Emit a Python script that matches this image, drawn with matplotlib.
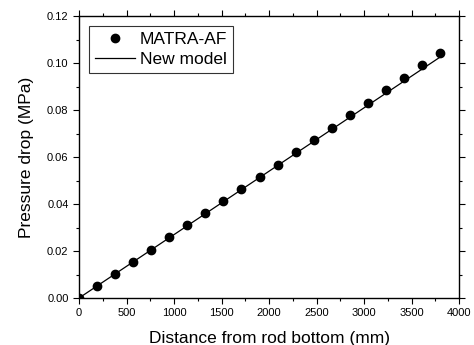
import matplotlib
matplotlib.use("Agg")
import matplotlib.pyplot as plt
from matplotlib.ticker import MultipleLocator

# MATRA-AF points
distance = [0, 190, 380, 570, 760, 950, 1140, 1330, 1520, 1710, 1900,
            2090, 2280, 2470, 2660, 2850, 3040, 3230, 3420, 3610, 3800]
dp_matra = [0.0, 0.0052, 0.0103, 0.0154, 0.0206, 0.0258, 0.0309, 0.0360,
            0.0413, 0.0464, 0.0516, 0.0567, 0.0620, 0.0672, 0.0725, 0.0778,
            0.0831, 0.0884, 0.0936, 0.0990, 0.1044]

# new model line
model_x = [0, 3800]
model_y = [0.0, 0.1025]

plt.rcParams['font.family'] = ['Liberation Sans', 'DejaVu Sans']

fig = plt.figure(figsize=(4.74, 3.45), dpi=100)
ax = fig.add_axes([0.1667, 0.1362, 0.8017, 0.8174])

ax.plot(distance, dp_matra, 'o', color='black', markersize=6, label='MATRA-AF')
ax.plot(model_x, model_y, '-', color='black', linewidth=0.9, label='New model')

ax.set_xlim(0, 4000)
ax.set_ylim(0, 0.12)
ax.xaxis.set_major_locator(MultipleLocator(500))
ax.xaxis.set_minor_locator(MultipleLocator(250))
ax.yaxis.set_major_locator(MultipleLocator(0.02))
ax.yaxis.set_minor_locator(MultipleLocator(0.01))
ax.yaxis.set_major_formatter(plt.FuncFormatter(lambda v, p: f"{v:.2f}"))

ax.tick_params(which='both', direction='out', top=True, right=True,
               labelsize=8, width=0.8)
ax.tick_params(which='major', length=4)
ax.tick_params(which='minor', length=2.5)
for s in ax.spines.values():
    s.set_linewidth(1.0)

ax.set_xlabel('Distance from rod bottom (mm)', fontsize=12.5, labelpad=9)
ax.set_ylabel('Pressure drop (MPa)', fontsize=12.5, labelpad=9)

leg = ax.legend(loc='upper left', fontsize=12.5, frameon=True, fancybox=False,
                edgecolor='black', borderaxespad=0.55, handlelength=2.3,
                handletextpad=0.3, borderpad=0.35, labelspacing=0.3)
leg.get_frame().set_linewidth(0.8)

fig.savefig('out.png', dpi=100)
